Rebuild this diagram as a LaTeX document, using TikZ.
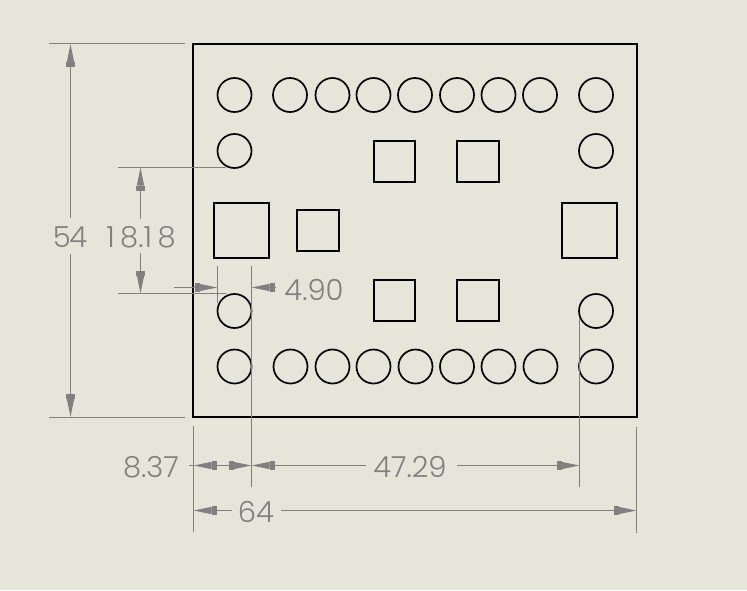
\documentclass[tikz,border=0pt]{standalone}
\usepackage{fontspec}
\setmainfont{Poppins Light}
\usetikzlibrary{arrows.meta}
\definecolor{paper}{HTML}{E5E5DA}
\definecolor{dimgray}{HTML}{808080}
\tikzset{
  hole/.style={draw=black,line width=1.7pt,circle,minimum size=34pt,inner sep=0pt},
  plate/.style={draw=black,line width=2.2pt,rectangle,inner sep=0pt},
  pad/.style={draw=black,line width=1.8pt,rectangle,inner sep=0pt},
  dimline/.style={draw=dimgray,line width=1.15pt},
  dimtip/.style={dimline,-{Rectangle[length=5pt,width=8.5pt,sep=0pt,color=dimgray]Triangle[length=18pt,width=7pt,color=dimgray]}},
  dimtext/.style={text=dimgray,font=\fontsize{29}{29}\selectfont,inner sep=0pt,anchor=center}
}
\begin{document}
\begin{tikzpicture}[x=1pt,y=-1pt]
\useasboundingbox[fill=paper] (0,0) rectangle (747,590);
% plate
\node[plate,minimum width=444pt,minimum height=373pt] (board) at (415,230.5) {};
% holes, top row
\foreach \n/\x in {a/234.5,b/290,c/332.5,d/373.5,e/415,f/457,g/498.5,h/540,i/596}
  \node[hole] (t\n) at (\x,95) {};
% holes, bottom row
\foreach \n/\x in {a/234.5,b/290.5,c/332.5,d/373.5,e/415.5,f/457,g/498.5,h/540.5,i/596}
  \node[hole] (u\n) at (\x,366.5) {};
\node[hole] (l1) at (234.5,151) {};
\node[hole] (r1) at (596,151) {};
\node[hole] (l2) at (234.5,311) {};
\node[hole] (r2) at (596,311) {};
% square pads
\node[pad,minimum width=55pt,minimum height=55pt] (s1) at (241.5,230.5) {};
\node[pad,minimum width=55pt,minimum height=55pt] (s2) at (589.5,230.5) {};
\foreach \n/\x/\y in {p1/318/230.5,p2/394.5/161.5,p3/478/161.5,p4/394.5/300.5,p5/478/300.5}
  \node[pad,minimum width=41.5pt,minimum height=41pt] (\n) at (\x,\y) {};
% dimension texts
\node[dimtext] (d54) at (70,237) {5\kern-1.5pt 4};
\node[dimtext] (d18) at (141,237) {1\kern5.5pt 8.1\kern5.5pt 8};
\node[dimtext] (d490) at (314,290) {4.90};
\node[dimtext] (d837) at (151,467) {8.37};
\node[dimtext] (d4729) at (410,467) {47.29};
\node[dimtext] (d64) at (256,512) {64};
% 54
\coordinate (e54a) at (49,43.5); \coordinate (e54b) at (185,43.5);
\coordinate (e54c) at (49,417.5); \coordinate (e54d) at (185,417.5);
\coordinate (t54) at (70.5,44); \coordinate (b54) at (70.5,417);
\coordinate (g54a) at (70.5,218); \coordinate (g54b) at (70.5,254);
\draw[dimline] (e54a) -- (e54b);
\draw[dimline] (e54c) -- (e54d);
\draw[dimtip] (g54a) -- (t54);
\draw[dimtip] (g54b) -- (b54);
% 18.18
\coordinate (e18a) at (118,167.5); \coordinate (e18b) at (226,167.5);
\coordinate (e18c) at (118,293.5); \coordinate (e18d) at (226,293.5);
\coordinate (t18) at (140.5,167.5); \coordinate (b18) at (140.5,293.5);
\coordinate (g18a) at (140.5,219); \coordinate (g18b) at (140.5,253);
\draw[dimline] (e18a) -- (e18b);
\draw[dimline] (e18c) -- (e18d);
\draw[dimtip] (g18a) -- (t18);
\draw[dimtip] (g18b) -- (b18);
% 4.90
\coordinate (e49a) at (217.5,266); \coordinate (e49b) at (217.5,303);
\coordinate (e49c) at (251.5,266); \coordinate (e49d) at (251.5,487);
\coordinate (t49a) at (217.5,287.5); \coordinate (t49b) at (251.5,287.5);
\coordinate (s49a) at (174,287.5); \coordinate (s49b) at (276,287.5);
\draw[dimline] (e49a) -- (e49b);
\draw[dimline] (e49c) -- (e49d);
\draw[dimtip] (s49a) -- (t49a);
\draw[dimtip] (s49b) -- (t49b);
% 8.37 and 47.29
\coordinate (e0a) at (193.5,426); \coordinate (e0b) at (193.5,532);
\coordinate (e47a) at (579.5,318); \coordinate (e47b) at (579.5,487);
\coordinate (m0) at (222,465.5);
\coordinate (s83) at (189.3,465.5);
\coordinate (t83a) at (193.5,465.5); \coordinate (t83b) at (251.5,465.5);
\coordinate (g47a) at (366,465.5); \coordinate (g47b) at (457,465.5);
\coordinate (t47b) at (579.5,465.5);
\draw[dimline] (e0a) -- (e0b);
\draw[dimline] (e47a) -- (e47b);
\draw[dimline] (s83) -- (t83a);
\draw[dimtip] (m0) -- (t83a);
\draw[dimtip] (m0) -- (t83b);
\draw[dimtip] (g47a) -- (t83b);
\draw[dimtip] (g47b) -- (t47b);
% 64
\coordinate (e64a) at (636.5,427); \coordinate (e64b) at (636.5,532.5);
\coordinate (t64a) at (193.5,510.5); \coordinate (t64b) at (636.5,510.5);
\coordinate (g64a) at (232,510.5); \coordinate (g64b) at (281,510.5);
\draw[dimline] (e64a) -- (e64b);
\draw[dimtip] (g64a) -- (t64a);
\draw[dimtip] (g64b) -- (t64b);
\end{tikzpicture}
\end{document}
